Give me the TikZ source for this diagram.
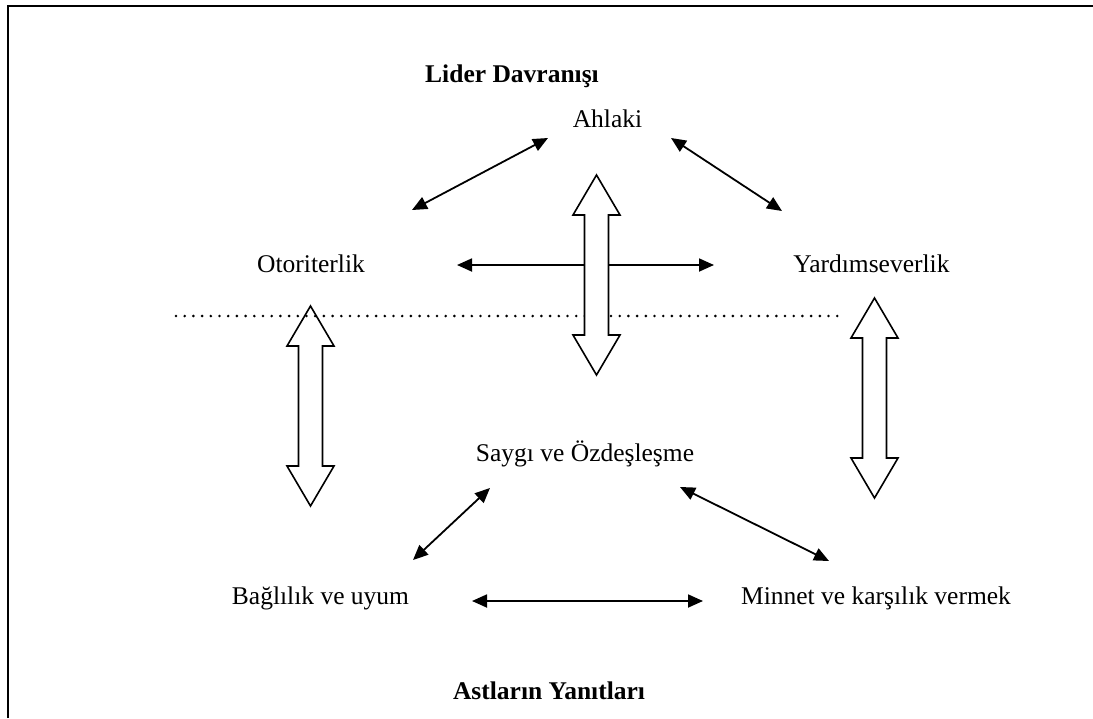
\documentclass[tikz,border=0pt]{standalone}
\usepackage{fontspec}
\setmainfont{Liberation Serif}
\usetikzlibrary{arrows.meta}
\begin{document}
\begin{tikzpicture}[x=1pt,y=-1pt,
  label/.style={inner sep=0pt,anchor=base,font=\fontsize{25.5}{30}\selectfont},
  heading/.style={label,font=\fontsize{25.5}{30}\selectfont\bfseries},
  link/.style={line width=1.8pt,{Triangle[length=15pt,width=13pt]}-{Triangle[length=15pt,width=13pt]}},
  blockarrow/.pic={
    \draw[line width=1.6pt,fill=white,line join=miter]
      (0,0) -- (23.5,40) -- (12,40) -- (12,160) -- (23.5,160) -- (0,200)
      -- (-23.5,160) -- (-12,160) -- (-12,40) -- (-23.5,40) -- cycle;
  }]
\useasboundingbox (0,0) rectangle (1093,718);
% frame
\draw[line width=2pt] (8,718) -- (8,6) -- (1093,6);

% labels
\node[heading] (lider) at (512,82) {Lider Davranışı};
\node[label] (ahlaki) at (607.5,127) {Ahlaki};
\node[label] (otor) at (311,272) {Otoriterlik};
\node[label] (yard) at (871.5,272) {Yardımseverlik};
\node[label] (saygi) at (585,461) {Saygı ve Özdeşleşme};
\node[label] (bagli) at (320.5,604) {Bağlılık ve uyum};
\node[label] (minnet) at (876,604) {Minnet ve karşılık vermek};
\node[heading] (astlar) at (549,699) {Astların Yanıtları};

% connector ends
\coordinate (a1) at (548,138);  \coordinate (o1) at (412,210);
\coordinate (a2) at (671,138);  \coordinate (y1) at (782,211);
\coordinate (o2) at (457,265);  \coordinate (y2) at (714,265);
\coordinate (s1) at (490,488);  \coordinate (b1) at (413,560);
\coordinate (s2) at (680,487);  \coordinate (m1) at (829,561);
\coordinate (b2) at (472,601);  \coordinate (m2) at (703,601);

% side block arrows (under the dotted line)
\pic at (310.5,306) {blockarrow};
\pic at (874.5,298) {blockarrow};

% dotted separator
\draw[line width=2.9pt,line cap=round,dash pattern=on 0pt off 8.7pt] (176,316) -- (845,316);

% thin double arrows
\draw[link] (a1) -- (o1);
\draw[link] (a2) -- (y1);
\draw[link] (o2) -- (y2);
\draw[link] (s1) -- (b1);
\draw[link] (s2) -- (m1);
\draw[link] (b2) -- (m2);

% central block arrow (over the lines)
\pic at (596.5,175) {blockarrow};
\end{tikzpicture}
\end{document}
